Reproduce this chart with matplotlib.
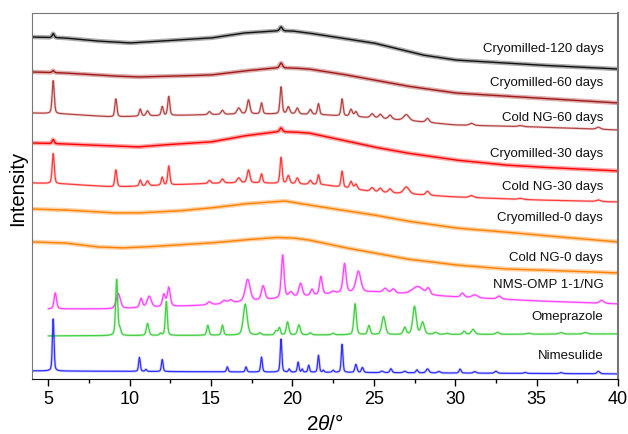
import numpy as np
import matplotlib
matplotlib.use("Agg")
import matplotlib.pyplot as plt

plt.rcParams["font.family"] = ["Liberation Sans", "DejaVu Sans"]
plt.rcParams["mathtext.fontset"] = "custom"
plt.rcParams["mathtext.it"] = "Liberation Sans:italic"
plt.rcParams["mathtext.rm"] = "Liberation Sans"

# 2theta grid for the patterns
tt = np.arange(4.0, 40.001, 0.01)

# baselines: (2theta, level) points
nim_base_x = [4, 40]
nim_base_y = [8, 5]
omp_base_x = [5, 40]
omp_base_y = [43, 45]
nms_base_x = [5, 9, 12, 15, 17, 19, 21, 23, 25, 27, 30, 35, 40]
nms_base_y = [70, 70, 72, 74, 77, 80, 83, 86, 87, 85, 82, 78, 75]
cng0_base_x = [4, 6, 8, 9.5, 11, 13, 15, 17, 19, 20, 21, 23, 25, 27, 30, 33, 35, 40]
cng0_base_y = [137, 136, 132, 131, 132, 134, 136, 139, 141.5, 141, 139, 132, 126, 120, 114, 110, 109, 106]
cry0_base_x = [4, 6, 9, 10.5, 13, 15, 17, 19.5, 21, 23, 25, 27, 30, 33, 35, 40]
cry0_base_y = [170, 169, 166, 166, 168, 171, 175, 178, 174, 169, 164, 158, 151, 147, 144, 137]
cng30_base_x = [4, 6, 9, 11, 14, 16, 18, 20, 22, 25, 28, 30, 35, 40]
cng30_base_y = [196, 195, 192, 193, 195, 196, 196, 195, 194, 187, 184, 182, 179, 177]
cry30_base_x = [4, 6, 9, 10.5, 12, 15, 17, 19, 20, 21, 23, 25, 27, 30, 33, 35, 40]
cry30_base_y = [236, 235, 233, 232, 234, 237, 243, 247, 247, 246, 239, 232, 226, 219, 214, 212, 208]
cng60_base_x = [4, 6, 9, 11, 14, 17, 20, 22, 25, 28, 30, 35, 40]
cng60_base_y = [266, 265, 262, 263, 264, 265, 265, 264, 261, 257, 254, 252, 249]
cry60_base_x = [4, 6, 9, 10.5, 13, 15, 17, 19, 20, 21, 23, 25, 27, 30, 33, 35, 40]
cry60_base_y = [307, 306, 303, 302, 303, 304, 308, 311, 311, 310, 305, 299, 293, 286, 283, 281, 276]
cry120_base_x = [4, 6, 8, 10, 12, 15, 17, 19, 20, 21, 23, 25, 28, 30, 33, 35, 40]
cry120_base_y = [342, 341, 338, 336, 338, 341, 346, 348, 348, 346, 341, 336, 324, 319, 316, 314, 310]

# peaks: position, height, fwhm
nim_pos = [5.3, 10.6, 11.0, 12.0, 16.0, 17.15, 18.1, 19.3, 19.8, 20.35, 20.6, 21.0, 21.6, 21.9,
           22.5, 23.05, 23.9, 24.3, 25.5, 26.05, 26.9, 27.65, 28.3, 29.0, 30.3, 31.2, 32.5, 34.3, 36.5, 38.8]
nim_h = [52, 14, 2, 12, 5, 5, 15, 33, 3, 10, 3, 7, 17, 2,
         2, 28, 8, 5, 1.5, 4, 1.5, 3, 4, 1.5, 4, 1.5, 2, 1, 1, 2.5]
nim_w = [0.12, 0.12, 0.12, 0.12, 0.12, 0.12, 0.12, 0.12, 0.12, 0.12, 0.1, 0.12, 0.12, 0.1,
         0.15, 0.12, 0.15, 0.15, 0.2, 0.15, 0.2, 0.15, 0.2, 0.2, 0.15, 0.2, 0.2, 0.2, 0.2, 0.2]

omp_pos = [9.2, 9.4, 11.1, 11.9, 12.25, 14.8, 15.7, 17.1, 18.0, 19.0, 19.2, 19.7, 20.4, 21.1, 22.5,
           23.85, 24.7, 25.6, 26.9, 27.5, 28.0, 28.8, 29.5, 30.55, 31.1, 32.6, 34.5, 36.5, 38.0]
omp_h = [56, 6, 12, 2, 34, 10, 10, 31, 2, 4, 7, 13, 10, 2, 1.5,
         31, 9, 18, 7, 28, 12, 2, 1, 3, 5, 2, 1, 1.5, 1.5]
omp_w = [0.15, 0.15, 0.18, 0.15, 0.14, 0.15, 0.15, 0.28, 0.2, 0.2, 0.15, 0.18, 0.2, 0.2, 0.2,
         0.18, 0.18, 0.25, 0.2, 0.25, 0.25, 0.25, 0.3, 0.2, 0.25, 0.25, 0.3, 0.3, 0.3]

nms_pos = [5.43, 9.3, 10.7, 11.2, 12.1, 12.4, 14.9, 15.8, 16.2, 17.25, 18.2, 19.4, 19.9, 20.5, 21.2,
           21.75, 22.5, 23.2, 24.05, 25.7, 26.2, 27.7, 28.35, 30.45, 31.2, 32.7, 39.0]
nms_h = [16, 15, 9, 11, 12, 19, 3, 3, 3, 22, 14, 43, 5, 13, 6,
         18, 2, 29, 21, 4, 4, 8, 6, 4, 3, 3, 3]
nms_w = [0.18, 0.3, 0.2, 0.3, 0.2, 0.22, 0.3, 0.3, 0.3, 0.35, 0.25, 0.2, 0.3, 0.25, 0.2,
         0.2, 0.3, 0.22, 0.35, 0.3, 0.25, 0.8, 0.25, 0.25, 0.4, 0.3, 0.3]

cng_pos = [5.3, 9.15, 10.65, 11.1, 12.0, 12.4, 14.9, 15.7, 16.7, 17.3, 18.1, 19.3, 19.75, 20.3, 21.1,
           21.6, 23.05, 23.6, 23.9, 24.9, 25.4, 26.0, 27.0, 28.3, 31.0, 34.0, 38.8]
cng30_h = [30, 17, 6, 5, 8, 19, 3, 4, 5, 13, 9, 26, 8, 6, 4,
           10, 16, 7, 5, 4, 4, 4, 7, 4, 2, 1, 1.5]
cng60_h = [33, 18, 7, 5, 9, 19, 3, 4, 6, 14, 11, 27, 7, 6, 5,
           11, 17, 7, 5, 4, 4, 4, 6, 4, 2, 1, 2]
cng_w = [0.15, 0.15, 0.15, 0.2, 0.15, 0.15, 0.2, 0.2, 0.25, 0.2, 0.15, 0.15, 0.2, 0.2, 0.2,
         0.15, 0.15, 0.2, 0.2, 0.25, 0.25, 0.25, 0.4, 0.25, 0.3, 0.3, 0.3]

# weak residual reflections in the cryomilled samples
cry_pos = [5.3, 19.3]
cry30_h = [4, 4]
cry60_h = [2, 5]
cry120_h = [4, 4]
cry_w = [0.15, 0.2]

labels = ["Cryomilled-120 days", "Cryomilled-60 days", "Cold NG-60 days", "Cryomilled-30 days",
          "Cold NG-30 days", "Cryomilled-0 days", "Cold NG-0 days", "NMS-OMP 1-1/NG",
          "Omeprazole", "Nimesulide"]
label_y = [330, 296, 261, 225, 192, 161, 121, 94, 62, 23]


def pattern(x0, bx, by, pos=(), h=(), w=()):
    x = tt[tt >= x0]
    y = np.interp(x, bx, by)
    for p, a, f in zip(pos, h, w):
        g = np.exp(-4 * np.log(2) * ((x - p) / f) ** 2)
        l = 1 / (1 + 4 * ((x - p) / f) ** 2)
        y = y + a * (0.6 * g + 0.4 * l)
    return x, y


fig = plt.figure(figsize=(6.28, 4.34), dpi=100)
ax = fig.add_axes([0.051, 0.127, 0.933, 0.843])

traces = [
    (pattern(4, cry120_base_x, cry120_base_y, cry_pos, cry120_h, cry_w), "#111111", True),
    (pattern(4, cry60_base_x, cry60_base_y, cry_pos, cry60_h, cry_w), "#A01818", True),
    (pattern(4, cng60_base_x, cng60_base_y, cng_pos, cng60_h, cng_w), "#B03535", False),
    (pattern(4, cry30_base_x, cry30_base_y, cry_pos, cry30_h, cry_w), "#FF0000", True),
    (pattern(4, cng30_base_x, cng30_base_y, cng_pos, cng30_h, cng_w), "#FF2A2A", False),
    (pattern(4, cry0_base_x, cry0_base_y), "#FF8000", True),
    (pattern(4, cng0_base_x, cng0_base_y), "#FF8000", True),
    (pattern(5, nms_base_x, nms_base_y, nms_pos, nms_h, nms_w), "#FF33FF", False),
    (pattern(5, omp_base_x, omp_base_y, omp_pos, omp_h, omp_w), "#33CC33", False),
    (pattern(4, nim_base_x, nim_base_y, nim_pos, nim_h, nim_w), "#2020FF", False),
]

for (x, y), c, fuzzy in traces:
    if fuzzy:
        ax.plot(x, y, color=c, lw=3.2, alpha=0.35, solid_capstyle="butt")
        ax.plot(x, y, color=c, lw=1.0)
    else:
        ax.plot(x, y, color=c, lw=0.9, alpha=0.9)
        ax.plot(x, y, color=c, lw=2.0, alpha=0.2)

for txt, ly in zip(labels, label_y):
    ax.text(39.1, ly, txt, ha="right", va="center", fontsize=9.5, color="#111111")

ax.set_xlim(4, 40)
ax.set_ylim(0, 366)
ax.set_xticks([5, 10, 15, 20, 25, 30, 35, 40])
ax.set_xticks([7.5, 12.5, 17.5, 22.5, 27.5, 32.5, 37.5], minor=True)
ax.set_yticks([])
ax.tick_params(axis="x", which="major", direction="out", length=5, width=1, labelsize=13, pad=4)
ax.tick_params(axis="x", which="minor", direction="out", length=3, width=1)
for side in ["top", "right", "left"]:
    ax.spines[side].set_color("#777777")
ax.spines["bottom"].set_color("#111111")
ax.spines["right"].set_linewidth(1.5)

ax.set_xlabel(r"2$\mathit{\theta}$/°", fontsize=15, labelpad=4)
ax.set_ylabel("Intensity", fontsize=14.5)
ax.yaxis.set_label_coords(-0.009, 0.52)

fig.savefig("out.png", dpi=100)
